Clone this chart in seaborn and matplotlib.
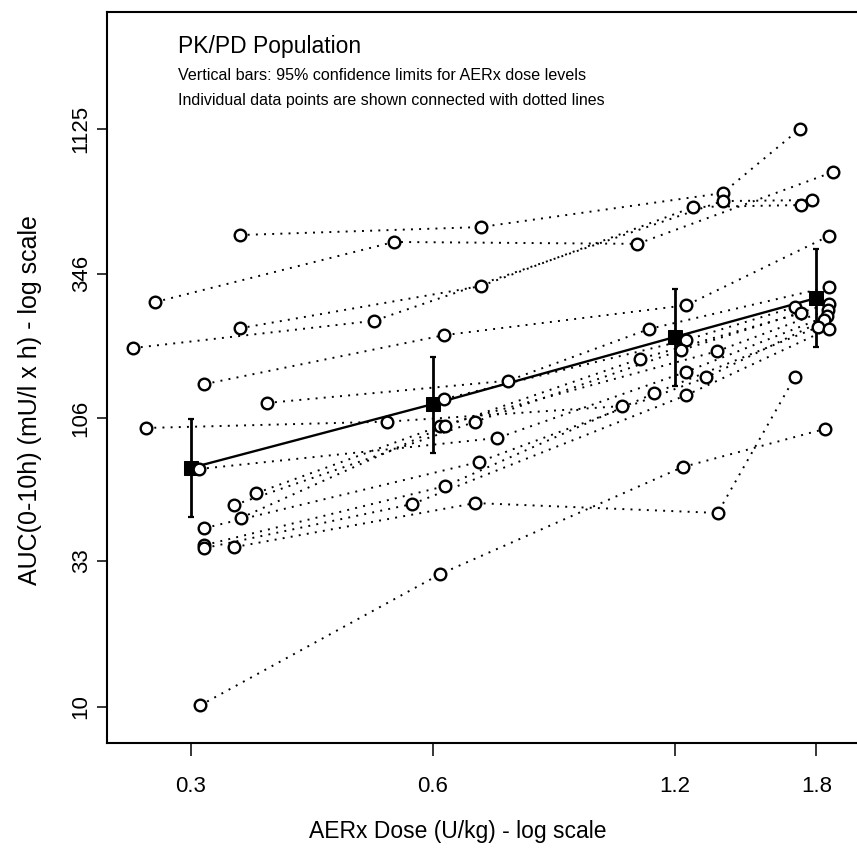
import numpy as np
import pandas as pd
import matplotlib
matplotlib.use("Agg")
import matplotlib.pyplot as plt
import seaborn as sns

nan = np.nan

# ---- data -------------------------------------------------------------------
dose_levels = [0.3, 0.6, 1.2, 1.8]
dose_tick_labels = ["0.3", "0.6", "1.2", "1.8"]
auc_ticks = [10, 33, 106, 346, 1125]
auc_tick_labels = ["10", "33", "106", "346", "1125"]

# individual subjects: actual dose (U/kg) and AUC at each of the four dose levels
dose_03_x = [0.345, 0.271, 0.345, 0.254, 0.312, 0.373, nan, 0.264, 0.340, 0.362,
             0.346, 0.307, 0.312, 0.312, 0.312, 0.340, 0.308]
dose_03_auc = [474, 274, 221, 188, 140, 120, nan, 97.8, 52.1, 57.4,
               46.8, 69.9, 43.1, 37.5, 36.6, 36.9, 10.1]
dose_06_x = [0.688, 0.537, 0.688, 0.507, 0.620, 0.745, 0.620, 0.527, 0.678, 0.613,
             0.622, 0.722, 0.684, 0.622, 0.566, 0.678, 0.613]
dose_06_auc = [506, 448, 312, 235, 209, 144, 124, 103, 103, 99.4,
               99.4, 90.1, 74.0, 60.8, 52.5, 52.9, 29.6]
dose_12_x = [1.376, 1.078, 1.266, 1.376, 1.241, 1.116, 1.241, 1.033, 1.223, 1.353,
             1.085, 1.241, 1.314, 1.132, 1.241, 1.357, 1.227]
dose_12_auc = [668, 441, 596, 626, 267, 220, 201, 117, 185, 183,
               172, 155, 148, 130, 128, 48.8, 71.0]
dose_18_x = [1.716, 1.886, 1.721, 1.776, 1.865, 1.865, 1.692, nan, 1.865, 1.860,
             1.721, 1.854, 1.838, 1.807, 1.865, 1.692, 1.844]
dose_18_auc = [1128, 793, 606, 631, 470, 310, 263, nan, 270, 257,
               250, 244, 236, 223, 220, 148, 97.0]

# geometric means and 95% confidence limits per dose level
mean_auc = [70.5, 118.9, 205.8, 283.1]
ci_low = [47.3, 79.9, 138.2, 189.1]
ci_high = [105.2, 175.1, 304.7, 422.5]

title_lines = ["PK/PD Population",
               "Vertical bars: 95% confidence limits for AERx dose levels",
               "Individual data points are shown connected with dotted lines"]
x_label = "AERx Dose (U/kg) - log scale"
y_label = "AUC(0-10h) (mU/l x h) - log scale"

# ---- long table -------------------------------------------------------------
rows = []
xs = [dose_03_x, dose_06_x, dose_12_x, dose_18_x]
ys = [dose_03_auc, dose_06_auc, dose_12_auc, dose_18_auc]
for s in range(len(dose_03_x)):
    for lvl in range(4):
        rows.append({"subject": s, "level": lvl, "dose": xs[lvl][s], "auc": ys[lvl][s]})
df = pd.DataFrame(rows).dropna().reset_index(drop=True)
means = pd.DataFrame({"dose": dose_levels, "auc": mean_auc})

# ---- figure -----------------------------------------------------------------
sns.set_style("ticks")
plt.rcParams["font.family"] = ["Liberation Sans", "DejaVu Sans"]
plt.rcParams["text.color"] = "black"
plt.rcParams["axes.labelcolor"] = "black"
plt.rcParams["xtick.color"] = "black"
plt.rcParams["ytick.color"] = "black"

fig = plt.figure(figsize=(8.57, 8.49), dpi=100)
ax = fig.add_axes([107 / 857, 106 / 849, 753 / 857, 731 / 849])
ax.set_xscale("log")
ax.set_yscale("log")

sns.lineplot(data=df, x="dose", y="auc", units="subject", estimator=None, sort=False,
             color="black", linewidth=1.4, linestyle=(0, (1, 3.2)), legend=False,
             ax=ax, zorder=1)

ax.errorbar(dose_levels, mean_auc,
            yerr=[np.array(mean_auc) - np.array(ci_low), np.array(ci_high) - np.array(mean_auc)],
            fmt="none", ecolor="black", elinewidth=2.0, capsize=2.5, capthick=1.6, zorder=2)
sns.lineplot(data=means, x="dose", y="auc", color="black", linewidth=1.7, marker="s",
             markersize=10, markerfacecolor="black", markeredgecolor="black",
             ax=ax, zorder=2, legend=False)

sns.scatterplot(data=df, x="dose", y="auc", marker="o", s=70, facecolor="white",
                edgecolor="black", linewidth=1.7, ax=ax, zorder=3, legend=False)

ax.set_xlim(0.236, 2.04)
ax.set_ylim(7.43, 2940)
ax.minorticks_off()
ax.set_xticks(dose_levels)
ax.set_xticklabels(dose_tick_labels)
ax.set_yticks(auc_ticks)
ax.set_yticklabels(auc_tick_labels, rotation=90, va="center")
ax.tick_params(axis="x", length=9.5, width=1.1, pad=14, labelsize=16)
ax.tick_params(axis="y", length=7, width=1.1, pad=4, labelsize=16)

for side in ["left", "bottom", "top"]:
    ax.spines[side].set_linewidth(1.5)
    ax.spines[side].set_color("black")
ax.spines["right"].set_visible(False)

ax.set_xlabel(x_label, fontsize=16.5, labelpad=0)
ax.set_ylabel(y_label, fontsize=18)
ax.xaxis.set_label_coords((458 - 107) / 753, -(820 - 743) / 731)
ax.yaxis.set_label_coords(-(107 - 42) / 753, (743 - 400) / 731)

fig.text(178 / 857, 1 - 47 / 849, title_lines[0], fontsize=16.5, va="center", ha="left")
fig.text(178 / 857, 1 - 75 / 849, title_lines[1], fontsize=11.6, va="center", ha="left")
fig.text(178 / 857, 1 - 100 / 849, title_lines[2], fontsize=11.5, va="center", ha="left")

fig.savefig("out.png", dpi=100, facecolor="white")
